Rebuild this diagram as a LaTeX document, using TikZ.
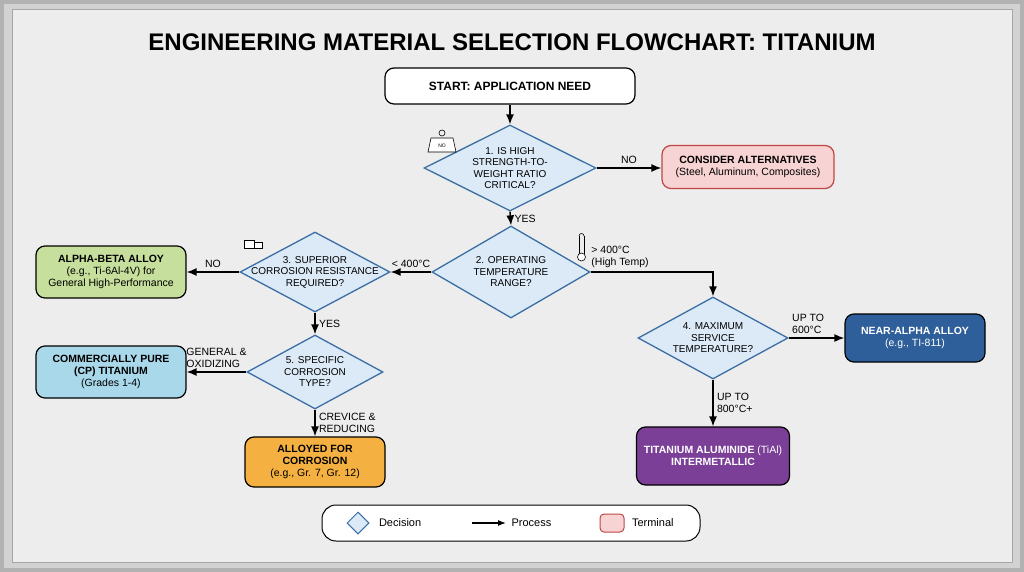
\documentclass[tikz,border=0pt]{standalone}
\usepackage{fontspec}
\setmainfont{Liberation Sans}
\usetikzlibrary{shapes.geometric,arrows.meta,positioning}
\definecolor{panel}{HTML}{EDEDED}
\definecolor{decfill}{HTML}{DCEAF7}
\definecolor{decline}{HTML}{3A6EA5}
\definecolor{altfill}{HTML}{F8D3D3}
\definecolor{altline}{HTML}{C04545}
\definecolor{abfill}{HTML}{C6DF9C}
\definecolor{cpfill}{HTML}{A9D8EA}
\definecolor{orfill}{HTML}{F4B041}
\definecolor{nafill}{HTML}{2F5F9A}
\definecolor{tifill}{HTML}{7B3F98}
\begin{document}
\begin{tikzpicture}[x=1pt,y=-1pt,
    dec/.style={draw=decline, fill=decfill, line width=1.3pt, diamond, aspect=1.8, inner sep=-16pt, align=center, font=\fontsize{10}{11.5}\selectfont},
    term/.style={draw=black, line width=1.2pt, rounded corners=9pt, align=center, font=\fontsize{10.5}{12}\selectfont},
    arr/.style={-{Latex[length=10pt,width=8pt]}, line width=1.4pt},
    lbl/.style={font=\fontsize{10.5}{12}\selectfont, align=left}
  ]
    \useasboundingbox (0,0) rectangle (1024,572);
    % frame
    \fill[gray!60] (0,0) rectangle (1024,572);
    \fill[gray!35] (4,4) rectangle (1020,568);
    \draw[gray!70, fill=panel, line width=1pt] (12,10) rectangle (1012,562);

    % title
    \node[font=\fontsize{24}{26}\selectfont\bfseries] (title) at (512,42) {ENGINEERING MATERIAL SELECTION FLOWCHART: TITANIUM};

    % nodes
    \node[term, fill=white, minimum width=250pt, minimum height=36pt, font=\fontsize{12}{13}\selectfont\bfseries] (start) at (510,86) {START: APPLICATION NEED};
    \node[dec, minimum width=172pt, minimum height=86pt] (d1) at (510,168) {1. IS HIGH\\STRENGTH-TO-\\WEIGHT RATIO\\CRITICAL?};
    \node[term, draw=altline, fill=altfill, minimum width=172pt, minimum height=43pt] (alt) at (748,167) {\textbf{CONSIDER ALTERNATIVES}\\(Steel, Aluminum, Composites)};
    \node[dec, minimum width=158pt, minimum height=92pt] (d2) at (511,272) {2. OPERATING\\TEMPERATURE\\RANGE?};
    \node[dec, minimum width=150pt, minimum height=80pt] (d3) at (315,272) {3. SUPERIOR\\CORROSION RESISTANCE\\REQUIRED?};
    \node[term, fill=abfill, minimum width=150pt, minimum height=52pt] (ab) at (111,272) {\textbf{ALPHA-BETA ALLOY}\\(e.g., Ti-6Al-4V) for\\General High-Performance};
    \node[dec, minimum width=136pt, minimum height=74pt] (d5) at (315,372) {5. SPECIFIC\\CORROSION\\TYPE?};
    \node[term, fill=cpfill, minimum width=150pt, minimum height=52pt] (cp) at (111,372) {\textbf{COMMERCIALLY PURE}\\\textbf{(CP) TITANIUM}\\(Grades 1-4)};
    \node[term, fill=orfill, minimum width=140pt, minimum height=50pt] (ac) at (315,462) {\textbf{ALLOYED FOR}\\\textbf{CORROSION}\\(e.g., Gr. 7, Gr. 12)};
    \node[dec, minimum width=150pt, minimum height=82pt] (d4) at (713,338) {4. MAXIMUM\\SERVICE\\TEMPERATURE?};
    \node[term, fill=nafill, text=white, minimum width=140pt, minimum height=48pt] (na) at (915,338) {\textbf{NEAR-ALPHA ALLOY}\\(e.g., TI-811)};
    \node[term, fill=tifill, text=white, minimum width=153pt, minimum height=58pt] (ti) at (713,456) {\textbf{TITANIUM ALUMINIDE} (TiAl)\\\textbf{INTERMETALLIC}};

    % connectors
    \draw[arr] (start) -- (d1);
    \draw[arr] (d1.east) -- node[lbl, above] {NO} (d1.east -| alt.west);
    \draw[arr] (d1.south) -- node[lbl, right] {YES} (d2.north);
    \draw[arr] (d2.west) -- node[lbl, above] {< 400°C} (d3.east);
    \draw[arr] (d2.east) -| node[lbl, above, pos=0.12] {> 400°C\\(High Temp)} (d4.north);
    \draw[arr] (d3.west) -- node[lbl, above] {NO} (d3.west -| ab.east);
    \draw[arr] (d3.south) -- node[lbl, right] {YES} (d5.north);
    \draw[arr] (d5.west) -- node[lbl, above] {GENERAL \&\\OXIDIZING} (d5.west -| cp.east);
    \draw[arr] (d5.south) -- node[lbl, right] {CREVICE \&\\REDUCING} (ac.north);
    \draw[arr] (d4.east) -- node[lbl, above, pos=0.35] {UP TO\\600°C} (d4.east -| na.west);
    \draw[arr] (d4.south) -- node[lbl, right] {UP TO\\800°C+} (ti.north);

    % icons
    \draw[line width=0.6pt, fill=white] (431,138) -- (453,138) -- (456,152) -- (428,152) -- cycle;
    \draw[line width=0.6pt] (442,133) circle (3pt);
    \node[font=\fontsize{5}{5}\selectfont] (wt) at (442,146) {NO};
    \draw[line width=0.6pt, fill=white] (244,240) rectangle (254,248) (254,242) rectangle (262,248);
    \draw[line width=0.6pt] (579,236) -- (579,254) (584,236) -- (584,254);
    \draw[line width=0.6pt] (579,236) arc[start angle=180, end angle=0, radius=2.5pt];
    \draw[line width=0.6pt, fill=white] (581.5,257) circle (4pt);

    % legend
    \draw[line width=1pt, fill=white, rounded corners=14pt] (322,505) rectangle (700,541);
    \node[diamond, draw=decline, fill=decfill, line width=1pt, minimum size=22pt, inner sep=0pt] (ldec) at (358,523) {};
    \node[lbl, right=6pt of ldec, font=\fontsize{11}{12}\selectfont] (ldect) {Decision};
    \coordinate (lpa) at (472,523);
    \coordinate (lpb) at (506,523);
    \draw[-{Latex[length=8pt]}, line width=1.2pt] (lpa) -- (lpb);
    \node[lbl, right=2pt of lpb, font=\fontsize{11}{12}\selectfont] (lpt) {Process};
    \node[draw=altline, fill=altfill, line width=1pt, rounded corners=4pt, minimum width=24pt, minimum height=18pt] (lterm) at (612,523) {};
    \node[lbl, right=4pt of lterm, font=\fontsize{11}{12}\selectfont] (ltermt) {Terminal};
\end{tikzpicture}
\end{document}
